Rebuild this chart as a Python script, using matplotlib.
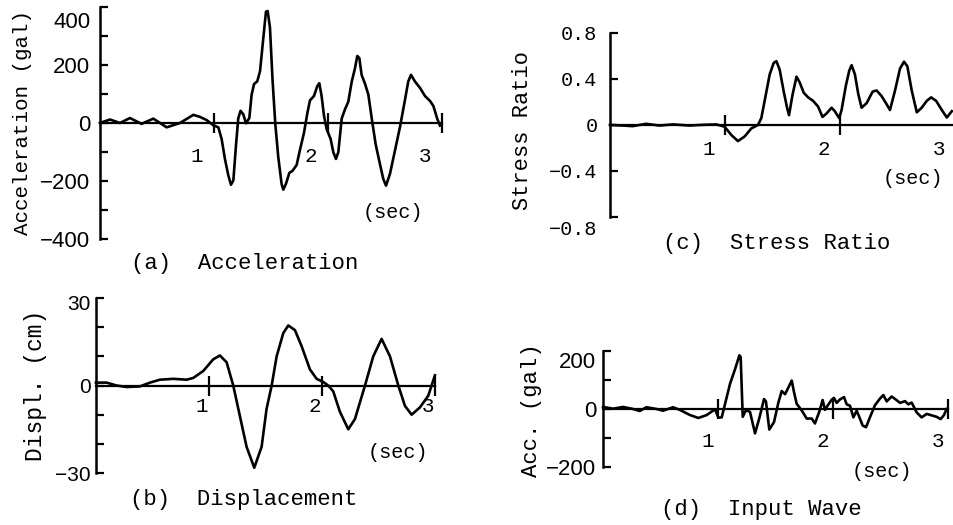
import matplotlib
matplotlib.use("Agg")
import matplotlib.pyplot as plt
import matplotlib.transforms as mtransforms

MONO = "Liberation Mono"
SANS = "Liberation Sans"

# (a) response acceleration (gal)
t_a = [0.000, 0.088, 0.175, 0.263, 0.365, 0.468, 0.585, 0.702, 0.819, 0.877,
       0.936, 0.994, 1.038, 1.067, 1.096, 1.126, 1.149, 1.170, 1.193, 1.213,
       1.233, 1.257, 1.281, 1.310, 1.330, 1.351, 1.380, 1.404, 1.433, 1.456,
       1.471, 1.491, 1.514, 1.538, 1.564, 1.593, 1.608, 1.632, 1.661, 1.689,
       1.725, 1.754, 1.789, 1.819, 1.842, 1.877, 1.906, 1.924, 1.944, 1.965,
       1.988, 2.023, 2.047, 2.070, 2.091, 2.120, 2.149, 2.178, 2.208, 2.237,
       2.257, 2.275, 2.295, 2.325, 2.354, 2.383, 2.418, 2.456, 2.485, 2.509,
       2.544, 2.588, 2.632, 2.675, 2.704, 2.728, 2.763, 2.807, 2.851, 2.895,
       2.924, 2.959, 2.982]
v_a = [0, 12, 0, 17, -3, 15, -15, 0, 28, 21,
       10, -8, -15, -55, -124, -181, -213, -198, -77, 16,
       42, 30, -1, 17, 97, 134, 144, 179, 294, 384,
       386, 329, 146, -4, -118, -210, -230, -209, -172, -165,
       -145, -93, -35, 34, 78, 93, 127, 137, 93, 25,
       -21, -55, -101, -124, -100, 15, 47, 73, 142, 189,
       231, 224, 166, 135, 98, 18, -73, -142, -193, -216,
       -175, -94, -13, 79, 143, 166, 143, 121, 93, 76,
       59, 14, -9]

# (b) displacement (cm)
t_b = [0.000, 0.094, 0.183, 0.271, 0.389, 0.478, 0.566, 0.684, 0.802, 0.861,
       0.950, 1.038, 1.097, 1.156, 1.215, 1.274, 1.333, 1.401, 1.466, 1.510,
       1.555, 1.599, 1.658, 1.702, 1.761, 1.820, 1.894, 1.953, 2.012, 2.056,
       2.100, 2.159, 2.233, 2.292, 2.336, 2.381, 2.454, 2.528, 2.602, 2.676,
       2.735, 2.794, 2.867, 2.941, 3.000]
v_b = [1.0, 1.0, 0.0, -0.5, -0.3, 1.0, 2.0, 2.3, 2.0, 2.6,
       5.0, 9.0, 10.3, 8.0, 0.0, -10.5, -21.0, -28.2, -21.0, -8.0,
       0.0, 10.0, 18.0, 20.6, 19.0, 13.5, 5.5, 2.3, 1.2, 0.0,
       -2.0, -9.0, -15.0, -11.5, -5.8, 0.0, 10.0, 16.0, 10.0, 0.0,
       -7.0, -10.0, -7.5, -3.5, 3.5]

# (c) stress ratio
t_c = [0.000, 0.110, 0.198, 0.314, 0.430, 0.547, 0.692, 0.779, 0.924, 0.997,
       1.055, 1.113, 1.171, 1.229, 1.287, 1.316, 1.345, 1.389, 1.424, 1.447,
       1.476, 1.511, 1.540, 1.557, 1.587, 1.622, 1.650, 1.685, 1.723, 1.766,
       1.810, 1.848, 1.883, 1.927, 1.955, 1.993, 2.014, 2.051, 2.080, 2.101,
       2.130, 2.159, 2.188, 2.232, 2.284, 2.319, 2.363, 2.406, 2.435, 2.479,
       2.522, 2.557, 2.586, 2.624, 2.668, 2.711, 2.755, 2.793, 2.836, 2.886,
       2.929, 2.973]
v_c = [0.0, -0.005, -0.01, 0.01, -0.005, 0.005, -0.005, 0.0, 0.005, -0.015,
       -0.087, -0.14, -0.10, -0.03, 0.0, 0.06, 0.21, 0.44, 0.54, 0.555,
       0.48, 0.29, 0.15, 0.085, 0.26, 0.42, 0.37, 0.28, 0.24, 0.21,
       0.16, 0.07, 0.10, 0.15, 0.12, 0.06, 0.13, 0.34, 0.47, 0.52,
       0.44, 0.27, 0.15, 0.19, 0.29, 0.30, 0.25, 0.18, 0.13, 0.30,
       0.49, 0.55, 0.51, 0.30, 0.11, 0.15, 0.21, 0.24, 0.21, 0.13,
       0.065, 0.12]

# (d) input wave (gal)
t_d = [0.000, 0.087, 0.174, 0.261, 0.319, 0.377, 0.464, 0.522, 0.609, 0.667,
       0.757, 0.829, 0.901, 0.974, 1.003, 1.032, 1.061, 1.104, 1.148, 1.186,
       1.197, 1.215, 1.243, 1.278, 1.322, 1.359, 1.400, 1.417, 1.446, 1.487,
       1.525, 1.554, 1.583, 1.612, 1.641, 1.661, 1.684, 1.728, 1.771, 1.815,
       1.843, 1.881, 1.910, 1.930, 1.959, 1.988, 2.008, 2.032, 2.061, 2.096,
       2.119, 2.148, 2.177, 2.206, 2.229, 2.258, 2.287, 2.322, 2.365, 2.409,
       2.438, 2.467, 2.510, 2.548, 2.583, 2.626, 2.655, 2.684, 2.728, 2.771,
       2.815, 2.858, 2.901, 2.936, 2.965, 2.989]
v_d = [7, 1, 7, 0, -7, 6, 0, -6, 6, -3,
       -21, -31, -21, -1, -30, -29, 17, 86, 137, 185,
       179, -27, -4, -10, -84, -32, 34, 26, -71, -45,
       22, 62, 51, 74, 98, 58, 18, -5, -33, -33,
       -50, -9, 31, -3, 15, 32, 38, 21, 33, 41,
       16, 11, -29, -6, -28, -57, -63, -28, 13, 36,
       48, 26, 43, 32, 21, 27, 16, 22, -12, -29,
       -17, -22, -27, -35, -21, 0]

x_ticks = [1, 2, 3]

fig = plt.figure(figsize=(9.54, 5.25), dpi=100)


def panel(rect, t, v, ylim, major, labels, minor, ylabel, ylab_size, ylab_xy,
          sec_xy, tick_font, tick_size, top_shift, ypad, xdx, xpad):
    ax = fig.add_axes(rect)
    ax.plot(t, v, color="black", lw=1.9, clip_on=False)
    ax.set_xlim(0, 3)
    ax.set_ylim(*ylim)
    for s in ["top", "right"]:
        ax.spines[s].set_visible(False)
    ax.spines["left"].set_linewidth(1.8)
    ax.spines["bottom"].set_position(("data", 0))
    ax.spines["bottom"].set_linewidth(1.6)
    ax.set_yticks(major)
    ax.set_yticks(minor, minor=True)
    ax.set_yticklabels(labels, fontfamily=tick_font, fontsize=tick_size)
    ax.tick_params(axis="y", which="both", direction="in", length=6,
                   width=1.6, pad=ypad)
    ax.set_xticks(x_ticks)
    ax.set_xticklabels([str(x) for x in x_ticks], fontfamily=MONO, fontsize=15)
    ax.tick_params(axis="x", direction="inout", length=15, width=1.6, pad=xpad)
    off = mtransforms.ScaledTranslation(xdx / 100, 0, fig.dpi_scale_trans)
    for lab in ax.get_xticklabels():
        lab.set_transform(lab.get_transform() + off)
    # outer labels sit a little inside the axis end
    labs = ax.get_yticklabels()
    for i, dy in top_shift.items():
        sh = mtransforms.ScaledTranslation(0, dy / 100, fig.dpi_scale_trans)
        labs[i].set_transform(labs[i].get_transform() + sh)
    ax.set_ylabel(ylabel, fontfamily=MONO, fontsize=ylab_size)
    ax.yaxis.set_label_coords(*ylab_xy)
    ax.text(sec_xy[0], sec_xy[1], "(sec)", transform=ax.transAxes,
            ha="center", va="center", fontfamily=MONO, fontsize=14.5)
    return ax


panel([0.1048, 0.5448, 0.3585, 0.4419], t_a, v_a, (-400, 400),
      [-400, -200, 0, 200, 400], ["\u2212400", "\u2212200", "0", "200", "400"],
      [-300, -100, 100, 300], "Acceleration (gal)", 15, (-0.199, 0.5),
      (0.857, 0.116), SANS, 16, {4: -13}, 7, -17, 10)

panel([0.1006, 0.0990, 0.3553, 0.3333], t_b, v_b, (-30, 30),
      [-30, 0, 30], ["\u221230", "0", "30"],
      [-20, -10, 10, 20], "Displ. (cm)", 16.5, (-0.144, 0.5),
      (0.891, 0.12), SANS, 15, {2: -4}, 4, -7, 1)

panel([0.6394, 0.5867, 0.3616, 0.3505], t_c, v_c, (-0.8, 0.8),
      [-0.8, -0.4, 0, 0.4, 0.8], ["\u22120.8", "\u22120.4", "0", "0.4", "0.8"],
      [], "Stress Ratio", 15.8, (-0.223, 0.47),
      (0.878, 0.21), MONO, 14.5, {0: -11}, 9, -16, 3)

panel([0.6321, 0.1105, 0.3616, 0.2210], t_d, v_d, (-200, 200),
      [-200, 0, 200], ["\u2212200", "0", "200"],
      [-100, 100], "Acc. (gal)", 16, (-0.177, 0.49),
      (0.809, -0.04), SANS, 16, {2: -9}, 5, -10, 9)

cap = dict(ha="center", va="center", fontfamily=MONO, fontsize=16)
fig.text(245 / 954, 0.499, "(a)  Acceleration", **cap)
fig.text(244 / 954, 0.048, "(b)  Displacement", **cap)
fig.text(777 / 954, 0.537, "(c)  Stress Ratio", **cap)
fig.text(761 / 954, 0.029, "(d)  Input Wave", **cap)

fig.savefig("out.png", dpi=100)
